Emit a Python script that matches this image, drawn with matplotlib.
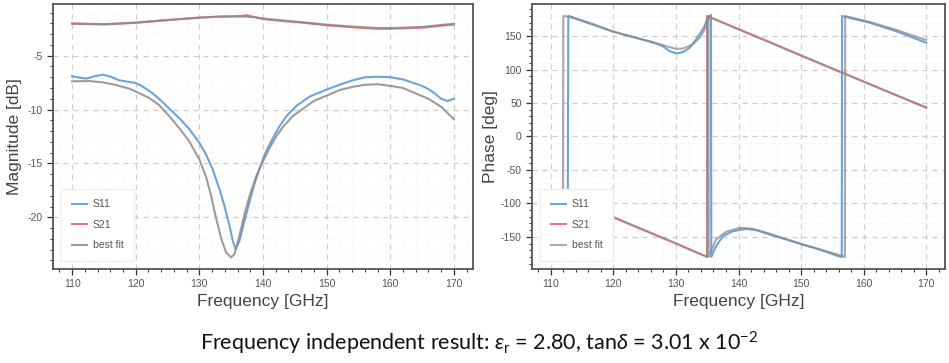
import matplotlib
matplotlib.use("Agg")
import matplotlib.pyplot as plt
from matplotlib.ticker import MultipleLocator

plt.rcParams["font.family"] = ["Liberation Sans", "DejaVu Sans"]
plt.rcParams["axes.unicode_minus"] = False

# ---- magnitude data [dB] ----
f_s11 = [110, 110.9, 112.2, 113.5, 114.8, 115.9, 117.4, 119, 120, 121, 122.6, 124.1, 125.3,
         126.8, 128.4, 130, 131.05, 132.1, 133.16, 133.95, 134.74, 135.26, 135.68, 136.3,
         137.1, 137.9, 138.7, 139.5, 140.5, 141.6, 142.6, 143.7, 145.3, 147.4, 150, 152, 154,
         156, 158, 160, 162, 164, 165, 166, 167, 168, 169, 170]
mag_s11 = [-6.91, -7.0, -7.13, -6.91, -6.76, -6.91, -7.28, -7.44, -7.53, -7.84, -8.46, -9.23,
           -9.94, -10.77, -11.79, -13.09, -14.17, -15.56, -17.4, -18.95, -20.8, -22.2, -22.96,
           -22.2, -20.3, -18.5, -16.8, -15.4, -13.86, -12.6, -11.54, -10.6, -9.63, -8.77,
           -8.15, -7.7, -7.3, -7.0, -6.95, -7.0, -7.2, -7.6, -7.8, -8.1, -8.5, -9.0, -9.2, -9.0]

f_fit11 = [110, 112.7, 114.8, 116.9, 119, 120.5, 122.1, 123.6, 125.26, 126.8, 128.4, 130,
           131.05, 131.84, 132.6, 133.4, 134.2, 135, 135.53, 136.3, 137.1, 137.9, 138.95, 140,
           141.05, 142.1, 143.16, 144.7, 146.8, 148, 150, 152, 154, 156, 158, 160, 162, 164,
           166, 168, 170]
mag_fit11 = [-7.38, -7.35, -7.47, -7.72, -8.06, -8.46, -8.92, -9.54, -10.6, -11.7, -12.93,
             -14.63, -16.23, -18.0, -20.0, -21.9, -23.27, -23.73, -23.4, -21.7, -19.7, -18.0,
             -16.17, -14.78, -13.55, -12.47, -11.6, -10.6, -9.7, -9.2, -8.7, -8.2, -7.9, -7.7,
             -7.65, -7.8, -8.0, -8.5, -9.0, -9.75, -10.9]

f_s21 = [110, 115, 120, 125, 130, 133, 136, 137.5, 139, 140, 143, 146, 150, 155, 158, 160, 165, 170]
mag_s21 = [-2.04, -2.1, -1.95, -1.7, -1.47, -1.38, -1.33, -1.25, -1.45, -1.6, -1.78, -1.92,
           -2.18, -2.4, -2.5, -2.5, -2.4, -2.1]
mag_fit21 = [-2.0, -2.07, -1.92, -1.68, -1.46, -1.37, -1.36, -1.38, -1.46, -1.55, -1.72,
             -1.88, -2.12, -2.33, -2.43, -2.44, -2.33, -2.03]

# ---- phase data [deg] ----
f_ph11 = [110, 111, 112.7, 112.8, 112.9, 116.1, 119.9, 123.6, 126.3, 127.9, 129, 130.1, 131.1,
          132.2, 133.2, 134.3, 135.1, 135.6, 135.65, 136.4, 137.5, 139.1, 141.2, 142.9, 145,
          147.7, 150.3, 153, 155.7, 156.5, 156.55, 161, 165.3, 170]
ph_s11 = [-172, -174, -178, 180, 180, 170, 157, 147.5, 141, 135, 127.5, 124, 126, 132.5, 145,
          160, 175, 182, -180, -164, -149, -141.5, -138, -140, -146.5, -154, -161.5, -169,
          -178, -180, 180, 170, 157, 140]

f_phfit11 = [110, 111, 111.95, 112.0, 112.9, 116.1, 119.9, 123.6, 127.9, 130, 131.1, 132.7,
             133.8, 134.6, 135.0, 135.2, 135.25, 135.5, 136.4, 138, 140.2, 142.3, 145, 150.3,
             155.7, 157.0, 157.05, 161, 165.3, 170]
ph_fit11 = [-175, -176, -178, 180, 179, 169, 157, 147.5, 136.5, 131, 131.5, 137.5, 147.5, 160,
            177, 180, -180, -174, -154, -142.5, -136.5, -138, -145.5, -161.5, -176, -180, 180,
            171, 159, 144]

f_ph21 = [110, 115, 120, 125, 130, 134.99, 135.0, 140, 145, 150, 155, 160, 165, 170]
ph_s21 = [-82, -101.5, -121, -140.5, -160, -180, 180, 160.5, 141, 121, 101.5, 82, 62.5, 43]
ph_fit21 = [-81, -100.5, -120, -140, -159.5, -180, 180, 160, 140.5, 121, 101.5, 82, 62.5, 43.5]

BLUE = "#5b9bd5"
RED = "#e8686b"
GRAY = "#8c8c8c"
TXT = "#555555"


def style_axes(ax, ymajor, yminor):
    ax.set_xlim(107, 173)
    ax.xaxis.set_major_locator(MultipleLocator(10))
    ax.xaxis.set_minor_locator(MultipleLocator(2))
    ax.yaxis.set_major_locator(MultipleLocator(ymajor))
    ax.yaxis.set_minor_locator(MultipleLocator(yminor))
    ax.grid(which="major", linestyle=(0, (4, 4)), color="#cccccc", linewidth=0.9)
    ax.grid(which="minor", linestyle="-", color="#f7f7f7", linewidth=0.5)
    ax.set_axisbelow(True)
    ax.tick_params(which="both", direction="out", top=False, right=False,
                   colors="#333333", labelcolor=TXT, labelsize=7.5)
    ax.tick_params(which="major", length=4, width=0.9)
    ax.tick_params(which="minor", length=2.5, width=0.7)
    for sp in ax.spines.values():
        sp.set_color("#555555")
        sp.set_linewidth(1.3)
    ax.set_xlabel("Frequency [GHz]", fontsize=12.5, color="#444444", labelpad=3)


def add_legend(ax):
    ax.legend(["S11", "S21", "best fit"], loc="lower left", fontsize=7.5, labelcolor=TXT,
              frameon=True, edgecolor="#eeeeee", fancybox=False, framealpha=1,
              handlelength=1.5, handletextpad=0.5, borderpad=1.0, labelspacing=1.0,
              borderaxespad=0.8)


fig = plt.figure(figsize=(9.49, 3.63), dpi=100)
ax1 = fig.add_axes([53 / 949, 94 / 363, 420 / 949, 265 / 363])
ax2 = fig.add_axes([532 / 949, 94 / 363, 413 / 949, 265 / 363])

lw = 1.5
ax1.plot(f_s11, mag_s11, color=BLUE, lw=lw, alpha=0.9)
ax1.plot(f_s21, mag_s21, color=RED, lw=lw, alpha=0.9)
ax1.plot(f_fit11, mag_fit11, color=GRAY, lw=lw, alpha=0.85)
ax1.plot(f_s21, mag_fit21, color=GRAY, lw=lw, alpha=0.85)
ax1.set_ylim(-24.8, -0.2)
style_axes(ax1, 5, 1)
ax1.set_ylabel("Magnitude [dB]", fontsize=12.5, color="#444444", labelpad=4)
add_legend(ax1)

ax2.plot(f_ph11, ph_s11, color=BLUE, lw=lw, alpha=0.9)
ax2.plot(f_ph21, ph_s21, color=RED, lw=lw, alpha=0.9)
ax2.plot(f_phfit11, ph_fit11, color=GRAY, lw=lw, alpha=0.75)
ax2.plot(f_ph21, ph_fit21, color=GRAY, lw=lw, alpha=0.6)
ax2.set_ylim(-198, 198)
style_axes(ax2, 50, 10)
ax2.set_ylabel("Phase [deg]", fontsize=12.5, color="#444444", labelpad=2)
add_legend(ax2)

plt.rcParams["mathtext.fontset"] = "custom"
plt.rcParams["mathtext.rm"] = "Lato"
plt.rcParams["mathtext.it"] = "Lato:italic"
fig.text(0.505, 0.055,
         r"Frequency independent result: $\varepsilon_\mathrm{r}$ = 2.80, tan$\delta$ = 3.01 x 10$^{\mathrm{-2}}$",
         ha="center", va="center", fontsize=15.5, family=["Lato", "DejaVu Sans"], color="#111111")

fig.savefig("out.png", dpi=100)
